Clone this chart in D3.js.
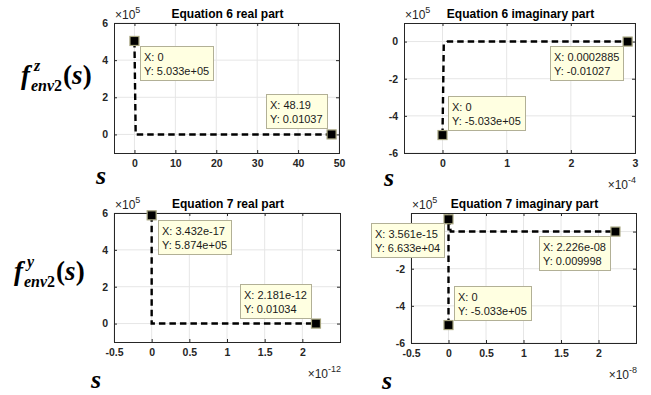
<!DOCTYPE html>
<html>
<head>
<meta charset="utf-8">
<script src="https://cdn.jsdelivr.net/npm/d3@7"></script>
<style>
  html, body { margin: 0; padding: 0; background: #ffffff; }
  svg { display: block; }
</style>
</head>
<body>
<script>
// ---------------- DATA ----------------
const panelTitles = ["Equation 6 real part", "Equation 6 imaginary part", "Equation 7 real part", "Equation 7 imaginary part"];

// curves (x, y) in raw units
const eq6RealX = [0, 0.3, 48.19];
const eq6RealY = [5.033e5, 0, 0.01037];
const eq6ImagX = [0, 0.02e-4, 0.08e-4, 2.885e-4];
const eq6ImagY = [-5.033e5, -1.5e4, 0, -0.01027];
const eq7RealX = [3.432e-17, 0, 2.181e-12];
const eq7RealY = [5.874e5, 0, 0.01034];
const eq7ImagX = [0, 3.561e-15, 0.03e-8, 2.226e-8];
const eq7ImagY = [-5.033e5, 6.633e4, 0, 0.009998];

// data tips (marker positions and texts)
const eq6RealTipX = [0, 48.19];
const eq6RealTipY = [5.033e5, 0.01037];
const eq6RealTipText = [["X: 0", "Y: 5.033e+05"], ["X: 48.19", "Y: 0.01037"]];
const eq6ImagTipX = [2.885e-4, 0];
const eq6ImagTipY = [-0.01027, -5.033e5];
const eq6ImagTipText = [["X: 0.0002885", "Y: -0.01027"], ["X: 0", "Y: -5.033e+05"]];
const eq7RealTipX = [3.432e-17, 2.181e-12];
const eq7RealTipY = [5.874e5, 0.01034];
const eq7RealTipText = [["X: 3.432e-17", "Y: 5.874e+05"], ["X: 2.181e-12", "Y: 0.01034"]];
const eq7ImagTipX = [3.561e-15, 2.226e-8, 0];
const eq7ImagTipY = [6.633e4, 0.009998, -5.033e5];
const eq7ImagTipText = [["X: 3.561e-15", "Y: 6.633e+04"], ["X: 2.226e-08", "Y: 0.009998"], ["X: 0", "Y: -5.033e+05"]];

// axes (display units = raw / 10^exponent)
const xDomains = [[-5, 50], [-0.6, 3], [-0.5, 2.5], [-0.5, 2.5]];
const yDomains = [[-1, 6], [-6, 1], [-1, 6], [-6, 1]];
const xTickValues = [[0, 10, 20, 30, 40, 50], [0, 1, 2, 3], [-0.5, 0, 0.5, 1, 1.5, 2], [-0.5, 0, 0.5, 1, 1.5, 2]];
const yTickValues = [[0, 2, 4, 6], [-6, -4, -2, 0], [0, 2, 4, 6], [-6, -4, -2, 0]];
// labels shown for the y ticks ("0" of the last panel is hidden under a data tip)
const yTickLabels = [["0", "2", "4", "6"], ["-6", "-4", "-2", "0"], ["0", "2", "4", "6"], ["-6", "-4", "-2", ""]];
const xExponents = [0, -4, -12, -8];
const yExponents = [5, 5, 5, 5];

// side labels
const rowSuperscripts = ["z", "y"];

// ---------------- LAYOUT ----------------
const W = 651, H = 395;
const boxes = [[114, 23, 339, 153], [404, 23, 635, 153], [114, 213, 340, 342], [411, 213, 636, 343]];
const tipAnchors = [["tl", "br"], ["tr", "bl"], ["tl", "br"], ["tr", "tr", "bl"]];

const curves = [[eq6RealX, eq6RealY], [eq6ImagX, eq6ImagY], [eq7RealX, eq7RealY], [eq7ImagX, eq7ImagY]];
const tips = [
  [eq6RealTipX, eq6RealTipY, eq6RealTipText],
  [eq6ImagTipX, eq6ImagTipY, eq6ImagTipText],
  [eq7RealTipX, eq7RealTipY, eq7RealTipText],
  [eq7ImagTipX, eq7ImagTipY, eq7ImagTipText]
];

const SANS = "'Liberation Sans', Arial, Helvetica, sans-serif";
const SERIF = "'Liberation Serif', 'Times New Roman', serif";

const svg = d3.select("body").append("svg").attr("width", W).attr("height", H);

function expLabel(g, x, y, exp, anchor) {
  const t = g.append("text").attr("x", x).attr("y", y)
    .attr("font-family", SANS).attr("font-size", 12).attr("fill", "#262626")
    .attr("text-anchor", anchor || "start");
  t.append("tspan").text("\u00d710");
  t.append("tspan").attr("dy", -6).attr("font-size", 9).text(String(exp));
}

boxes.forEach((b, i) => {
  const [x0, y0, x1, y1] = b;
  const g = svg.append("g");
  const x = d3.scaleLinear().domain(xDomains[i]).range([x0, x1]);
  const y = d3.scaleLinear().domain(yDomains[i]).range([y1, y0]);
  const xs = Math.pow(10, xExponents[i]);
  const ys = Math.pow(10, yExponents[i]);

  // grid
  g.append("g").selectAll("line").data(xTickValues[i]).join("line")
    .attr("x1", d => x(d)).attr("x2", d => x(d)).attr("y1", y0).attr("y2", y1)
    .attr("stroke", "#e6e6e6").attr("stroke-width", 1);
  g.append("g").selectAll("line").data(yTickValues[i]).join("line")
    .attr("y1", d => y(d)).attr("y2", d => y(d)).attr("x1", x0).attr("x2", x1)
    .attr("stroke", "#e6e6e6").attr("stroke-width", 1);

  // axes
  const fmt = d => String(d);
  const yfmt = (d, k) => yTickLabels[i][k];
  const axB = g.append("g").attr("transform", `translate(0,${y1})`)
    .call(d3.axisBottom(x).tickValues(xTickValues[i]).tickSize(-3).tickPadding(7).tickFormat(fmt));
  const axL = g.append("g").attr("transform", `translate(${x0},0)`)
    .call(d3.axisLeft(y).tickValues(yTickValues[i]).tickSize(-3).tickPadding(6).tickFormat(yfmt));
  const axT = g.append("g").attr("transform", `translate(0,${y0})`)
    .call(d3.axisTop(x).tickValues(xTickValues[i]).tickSize(-3).tickFormat(""));
  const axR = g.append("g").attr("transform", `translate(${x1},0)`)
    .call(d3.axisRight(y).tickValues(yTickValues[i]).tickSize(-3).tickFormat(""));
  [axB, axL, axT, axR].forEach(a => {
    a.select(".domain").remove();
    a.selectAll("line").attr("stroke", "#262626");
    a.selectAll("text").attr("font-family", SANS).attr("font-size", 10.5)
      .attr("font-weight", "bold").attr("fill", "#262626");
  });

  // box
  g.append("rect").attr("x", x0 + 0.5).attr("y", y0 + 0.5)
    .attr("width", x1 - x0).attr("height", y1 - y0)
    .attr("fill", "none").attr("stroke", "#262626").attr("stroke-width", 1);

  // title
  g.append("text").attr("x", (x0 + x1) / 2 + 1).attr("y", y0 - 5)
    .attr("text-anchor", "middle").attr("font-family", SANS).attr("font-size", 12)
    .attr("font-weight", "bold").attr("fill", "#000").text(panelTitles[i]);

  // exponent labels
  expLabel(g, x0 + 1, y0 - 4, yExponents[i], "start");
  if (xExponents[i] !== 0) {
    expLabel(g, x1 + 1, y1 + 36, xExponents[i], "end");
  }

  // curve
  const [cx, cy] = curves[i];
  const pts = cx.map((v, k) => [v / xs, cy[k] / ys]);
  g.append("path").datum(pts)
    .attr("d", d3.line().x(d => x(d[0])).y(d => y(d[1])))
    .attr("fill", "none").attr("stroke", "#000").attr("stroke-width", 2.4)
    .attr("stroke-dasharray", "6.5,4");

  // markers and tips
  const [tx, ty, tt] = tips[i];
  tx.forEach((v, k) => {
    const mx = x(v / xs), my = y(ty[k] / ys);
    g.append("rect").attr("x", mx - 4.5).attr("y", my - 4.5).attr("width", 9).attr("height", 9)
      .attr("fill", "#000").attr("stroke", "#a6a47e").attr("stroke-width", 1.2);
  });
  tx.forEach((v, k) => {
    const mx = x(v / xs), my = y(ty[k] / ys);
    const tg = svg.append("g");
    const rect = tg.append("rect").attr("fill", "#ffffe1").attr("stroke", "#b2b096").attr("stroke-width", 1);
    const texts = tt[k].map((s, j) => tg.append("text")
      .attr("font-family", SANS).attr("font-size", 11).attr("fill", "#1a1a1a")
      .attr("x", 4).attr("y", 15 + j * 13.5).text(s));
    const tw = d3.max(texts, t => t.node().getComputedTextLength());
    const bw = Math.round(tw + 8), bh = 34;
    const a = tipAnchors[i][k];
    let bx, by;
    if (a === "tl") { bx = mx + 6; by = my + 5; }
    else if (a === "br") { bx = mx - 5 - bw; by = my - 6 - bh; }
    else if (a === "tr") { bx = mx - 5 - bw; by = my + 4; }
    else { bx = mx + 5; by = my - 5 - bh; }
    rect.attr("x", 0.5).attr("y", 0.5).attr("width", bw).attr("height", bh);
    tg.attr("transform", `translate(${Math.round(bx)},${Math.round(by)})`);
  });
});

// ---------------- left / bottom symbolic labels ----------------
function serifText(x, y, size, italic, str) {
  return svg.append("text").attr("x", x).attr("y", y)
    .attr("font-family", SERIF).attr("font-style", italic ? "italic" : "normal")
    .attr("font-weight", "bold").attr("font-size", size).attr("fill", "#000").text(str);
}
function fLabel(x, y, sup) {
  const f = serifText(x, y, 27, true, "f");
  const fw = f.node().getComputedTextLength();
  serifText(x + fw + 4, y - 13, 16, true, sup);
  const sub = svg.append("text").attr("x", x + fw + 1).attr("y", y + 7)
    .attr("font-family", SERIF).attr("font-weight", "bold").attr("font-size", 16).attr("fill", "#000");
  sub.append("tspan").attr("font-style", "italic").text("env");
  sub.append("tspan").text("2");
  const sw = sub.node().getComputedTextLength();
  const p = svg.append("text").attr("x", x + fw + 2 + sw).attr("y", y)
    .attr("font-family", SERIF).attr("font-weight", "bold").attr("font-size", 27).attr("fill", "#000");
  p.append("tspan").text("(");
  p.append("tspan").attr("font-style", "italic").text("s");
  p.append("tspan").text(")");
}
fLabel(21, 84, rowSuperscripts[0]);
fLabel(14, 280, rowSuperscripts[1]);

const sLabels = [[96, 184], [384, 186], [91, 388], [382, 389]];
sLabels.forEach(([sx, sy]) => serifText(sx, sy, 26, true, "s"));
</script>
</body>
</html>
